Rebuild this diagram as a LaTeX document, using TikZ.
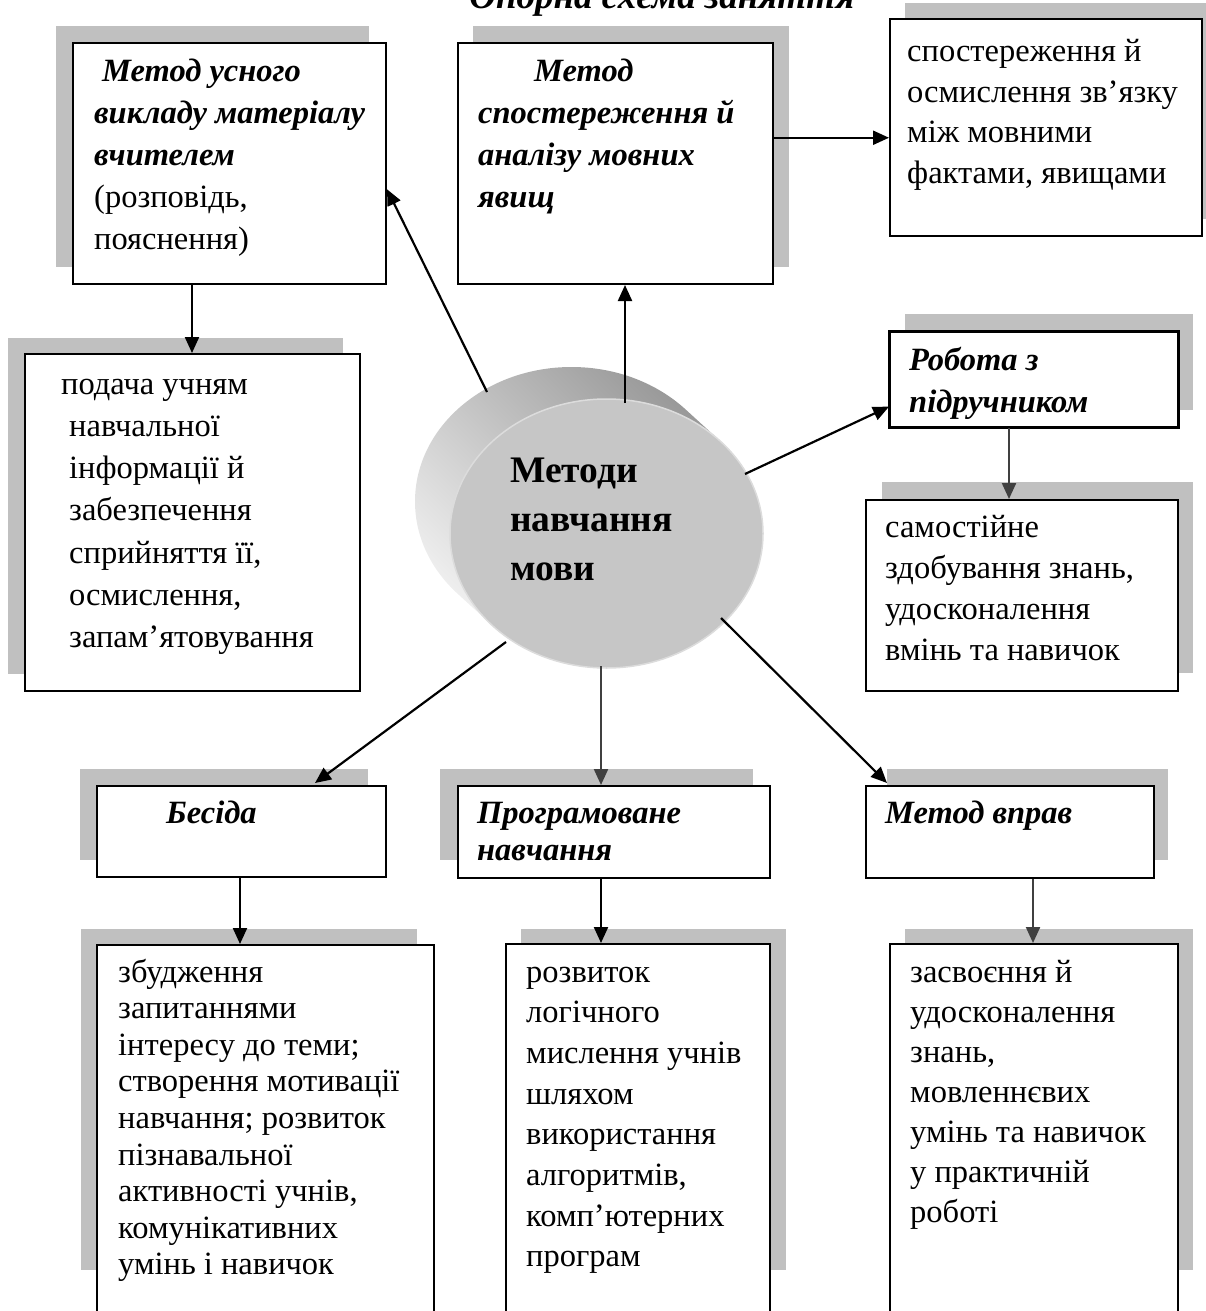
\documentclass[tikz,border=0pt]{standalone}
\usepackage{fontspec}
\setmainfont{Liberation Serif}
\usetikzlibrary{arrows.meta,shapes.geometric,calc}
\definecolor{shd}{HTML}{C0C0C0}
\definecolor{face}{HTML}{C6C6C6}
\definecolor{rim}{HTML}{DCDCDC}
\definecolor{dgray}{HTML}{404040}
\newcommand\bi{\bfseries\itshape}
\newcommand\mylines[2]{\vtop{\baselineskip=#1\relax\lineskiplimit=-1000pt\lineskip=0pt\let\\\cr\halign{##\hfil\cr#2\crcr}}}
\tikzset{
  box/.style={draw, line width=2pt, fill=white, inner sep=0pt, anchor=north west},
  txt/.style={anchor=base west, inner sep=0pt, font=\fontsize{32.5}{40}\selectfont},
  btxt/.style={txt, font=\fontsize{32.5}{40}\selectfont\bi},
  conn/.style={line width=2.2pt, -{Triangle[length=16pt,width=14pt]}},
  dconn/.style={line width=2.2pt, draw=dgray, -{Triangle[length=16pt,width=14pt,fill=dgray]}},
  shadowbox/.style={fill=shd}
}
\begin{document}
\begin{tikzpicture}[x=1pt,y=-1pt]
\useasboundingbox (0,0) rectangle (1206,1311);
% title (cut off at the top, as in the reference)
\node[anchor=base, inner sep=0pt, font=\fontsize{37}{40}\selectfont\bi] (title) at (662,9) {Опорна схема заняття};

% shadows
\fill[shadowbox] (56,26) rectangle (369,267);
\fill[shadowbox] (8,338) rectangle (343,674);
\fill[shadowbox] (473,26) rectangle (789,267);
\fill[shadowbox] (905,3) rectangle (1217,219);
\fill[shadowbox] (905,314) rectangle (1193,410);
\fill[shadowbox] (882,482) rectangle (1193,673);
\fill[shadowbox] (80,769) rectangle (368,860);
\fill[shadowbox] (81,929) rectangle (417,1270);
\fill[shadowbox] (440,769) rectangle (753,860);
\fill[shadowbox] (521,929) rectangle (786,1270);
\fill[shadowbox] (887,769) rectangle (1168,860);
\fill[shadowbox] (905,929) rectangle (1193,1270);

% boxes
\node[box, minimum width=313pt, minimum height=241pt] (A) at (72,42) {};
\node[box, minimum width=335pt, minimum height=337pt] (A2) at (24,353) {};
\node[box, minimum width=315pt, minimum height=241pt] (B) at (457,42) {};
\node[box, minimum width=312pt, minimum height=217pt] (C) at (889,18) {};
\node[box, minimum width=288pt, minimum height=95pt] (D) at (889,331) {};
\node[box, minimum width=312pt, minimum height=191pt] (D2) at (865,499) {};
\node[box, minimum width=289pt, minimum height=91pt] (E) at (96,785) {};
\node[box, minimum width=337pt, minimum height=400pt] (E2) at (96,944) {};
\node[box, minimum width=312pt, minimum height=92pt] (F) at (457,785) {};
\node[box, minimum width=264pt, minimum height=400pt] (F2) at (505,943) {};
\node[box, minimum width=288pt, minimum height=92pt] (G) at (865,785) {};
\node[box, minimum width=288pt, minimum height=400pt] (G2) at (889,943) {};

% texts
\node[txt] (tA) at (94,82) {\mylines{42pt}{{\bi\kern8pt Метод усного}\\{\bi викладу матеріалу}\\{\bi вчителем}\\(розповідь,\\пояснення)}};
\node[txt] (tA2) at (61,394) {\mylines{42.3pt}{подача учням\\\kern8pt навчальної\\\kern8pt інформації й\\\kern8pt забезпечення\\\kern8pt сприйняття її,\\\kern8pt осмислення,\\\kern8pt запам’ятовування}};
\node[btxt] (tB) at (478,82) {\mylines{42pt}{\kern56pt Метод\\спостереження й\\аналізу мовних\\явищ}};
\node[txt] (tC) at (907,62) {\mylines{40.5pt}{спостереження й\\осмислення зв’язку\\між мовними\\фактами, явищами}};
\begin{scope}
\clip (D.north west) rectangle (D.south east);
\node[btxt] (tD) at (909,370) {\mylines{42pt}{Робота з\\підручником}};
\end{scope}
\draw[line width=2pt] (D.north west) rectangle (D.south east);
\node[txt] (tD2) at (885,537) {\mylines{41pt}{самостійне\\здобування знань,\\удосконалення\\вмінь та навичок}};
\node[btxt] (tE) at (166,823) {Бесіда};
\node[txt] (tE2) at (118,982) {\mylines{36.6pt}{збудження\\запитаннями\\інтересу до теми;\\створення мотивації\\навчання; розвиток\\пізнавальної\\активності учнів,\\комунікативних\\умінь і навичок}};
\node[btxt] (tF) at (477,823) {\mylines{37pt}{Програмоване\\навчання}};
\node[txt] (tF2) at (526,982) {\mylines{40.7pt}{розвиток\\логічного\\мислення учнів\\шляхом\\використання\\алгоритмів,\\комп’ютерних\\програм}};
\node[btxt] (tG) at (885,823) {Метод вправ};
\node[txt] (tG2) at (910,982) {\mylines{40pt}{засвоєння й\\удосконалення\\знань,\\мовленнєвих\\умінь та навичок\\у практичній\\роботі}};

% central cylinder
\shade[top color=black!42, bottom color=black!5, shading angle=-45]
  \foreach \t in {0,0.04,...,1.001} { ({571.5+35*\t},{501.5+32*\t}) ellipse [x radius=156.5, y radius=134.5] };
\node[ellipse, fill=face, draw=rim, line width=1.5pt, minimum width=313pt, minimum height=269pt, inner sep=0pt] (M) at (606.5,533.5) {};
\node[anchor=base west, inner sep=0pt, font=\fontsize{37.5}{40}\selectfont\bfseries] (tM) at (510,482) {\mylines{49pt}{Методи\\навчання\\мови}};

% connector start points on the cylinder
\coordinate (cA) at (487,392);
\coordinate (cB) at (625,403);
\coordinate (cD) at (745,474);
\coordinate (cE) at (506,642);
\coordinate (cF) at (601,666);
\coordinate (cG) at (721,618);

% connectors
\draw[conn] (cA) -- ($(A.north east)!0.606!(A.south east)$);
\draw[conn] (cB) -- (cB |- B.south);
\coordinate (bc) at ($(B.north east)!0.394!(B.south east)$);
\draw[conn] (bc) -- (bc -| C.west);
\draw[conn] (cD) -- ($(D.north west)!0.78!(D.south west)$);
\draw[conn] (cE) -- (315,783);
\draw[dconn] (cF) -- (cF |- F.north);
\draw[conn] (cG) -- (887,783);
\coordinate (xA) at (192,0);
\draw[conn] (xA |- A.south) -- (xA |- A2.north);
\coordinate (xD) at (1009,0);
\draw[dconn] (xD |- D.south) -- (xD |- D2.north);
\coordinate (xE) at (240,0);
\draw[conn] (xE |- E.south) -- (xE |- E2.north);
\draw[conn] (cF |- F.south) -- (cF |- F2.north);
\coordinate (xG) at (1033,0);
\draw[dconn] (xG |- G.south) -- (xG |- G2.north);
\end{tikzpicture}
\end{document}
